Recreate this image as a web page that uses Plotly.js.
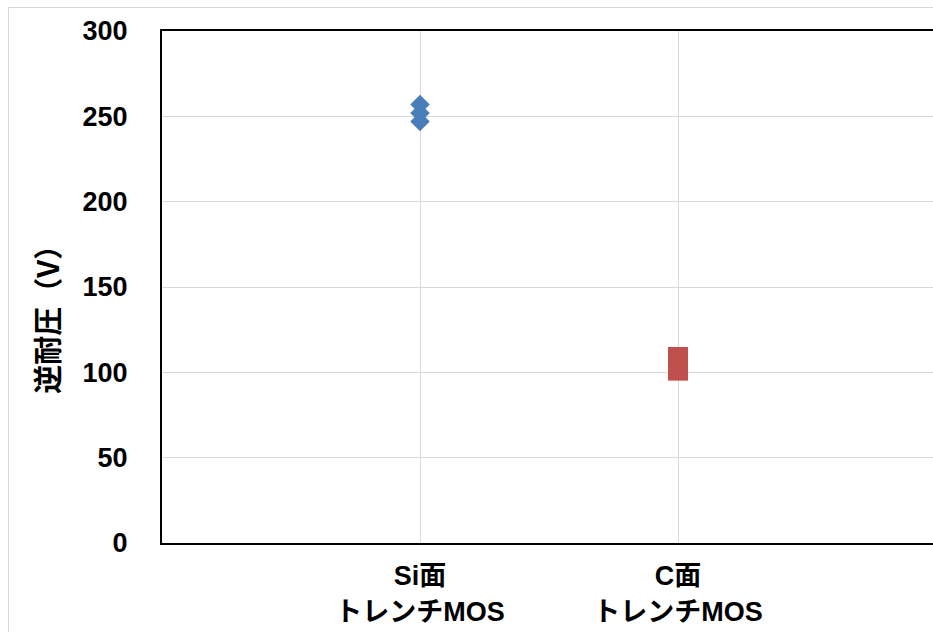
<!DOCTYPE html>
<html>
<head>
<meta charset="utf-8">
<script src="https://cdn.plot.ly/plotly-3.0.1.min.js"></script>
<style>
  html, body { margin: 0; padding: 0; overflow: hidden; background: #fff; width: 933px; height: 632px; }
  #frame { position: absolute; left: 8px; top: 7px; width: 1000px; height: 1000px; border: 1px solid #d9d9d9; }
  #chart { position: absolute; left: 0; top: 0; }
</style>
</head>
<body>
<div id="frame"></div>
<div id="chart"></div>
<script>
const categories = ["Si面<br>トレンチMOS", "C面<br>トレンチMOS"];
const siValues = [257, 252, 247];
const cValues = [109, 105, 101];
const yTicks = [0, 50, 100, 150, 200, 250, 300];
const yTitle = "逆耐圧（V）";

const fontFam = "Liberation Sans, Arial, 'Noto Sans CJK JP', sans-serif";

const traces = [
  {
    type: "scatter", mode: "markers",
    x: siValues.map(() => categories[0]), y: siValues,
    marker: { symbol: "diamond", size: 15, color: "#4a7ebb" },
    name: "Si面"
  },
  {
    type: "scatter", mode: "markers",
    x: cValues.map(() => categories[1]), y: cValues,
    marker: { symbol: "square", size: 20, color: "#c0504d" },
    name: "C面"
  }
];

const layout = {
  width: 950, height: 632,
  margin: { l: 162, r: 14, t: 31, b: 89 },
  paper_bgcolor: "rgba(0,0,0,0)",
  plot_bgcolor: "#ffffff",
  showlegend: false,
  font: { family: fontFam, color: "#000" },
  xaxis: {
    type: "category", categoryorder: "array", categoryarray: categories,
    range: [-1, 2],
    tickmode: "array", tickvals: categories, ticktext: categories,
    showgrid: true, gridcolor: "#d9d9d9", gridwidth: 1,
    showline: true, linecolor: "#000", linewidth: 2, mirror: true,
    zeroline: false, ticks: "",
    ticklabelstandoff: 8,
    tickfont: { family: fontFam, size: 27, weight: 700, color: "#000" }
  },
  yaxis: {
    range: [0, 300], tickvals: yTicks,
    showgrid: true, gridcolor: "#d9d9d9", gridwidth: 1,
    showline: true, linecolor: "#000", linewidth: 2, mirror: false,
    zeroline: false, ticks: "",
    ticklabelstandoff: 27,
    tickfont: { family: fontFam, size: 27, weight: 700, color: "#000" }
  },
  annotations: [
    {
      text: yTitle, textangle: -90, showarrow: false,
      xref: "paper", yref: "paper", x: -0.151, y: 0.45,
      xanchor: "center", yanchor: "middle",
      font: { family: "'Noto Sans CJK JP', sans-serif", size: 29, weight: 700, color: "#000" }
    }
  ]
};

Plotly.newPlot("chart", traces, layout, { displayModeBar: false, staticPlot: true });
</script>
</body>
</html>
